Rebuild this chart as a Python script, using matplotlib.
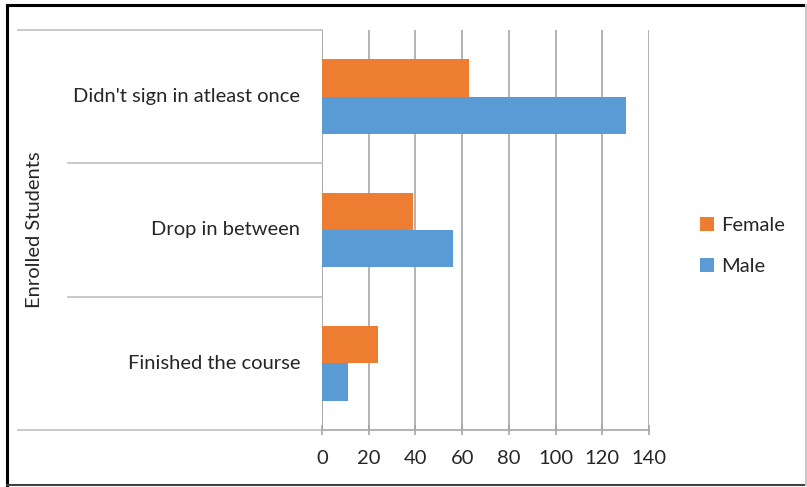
import matplotlib
matplotlib.use("Agg")
import matplotlib.pyplot as plt
import matplotlib.transforms as mtransforms
from matplotlib.patches import Patch
from matplotlib.lines import Line2D

categories = ["Finished the course", "Drop in between", "Didn't sign in atleast once"]
female = [24, 39, 63]
male = [11, 56, 130]
x_ticks = [0, 20, 40, 60, 80, 100, 120, 140]
group_label = "Enrolled Students"

FEMALE_C = "#ED7D31"
MALE_C = "#5B9BD5"
GRID_C = "#A6A6A6"
SEP_C = "#BFBFBF"
TEXT_C = "#262626"
FS = 14.5

plt.rcParams["font.family"] = ["Lato", "DejaVu Sans"]

W, H = 807, 487
fig = plt.figure(figsize=(W / 100, H / 100), dpi=100)
ax = fig.add_axes([322 / W, 1 - 430 / H, (649 - 322) / W, (430 - 30) / H])

bar_h = 0.28
ypos = list(range(len(categories)))
ax.barh([y + bar_h / 2 for y in ypos], female, height=bar_h, color=FEMALE_C, zorder=3)
ax.barh([y - bar_h / 2 for y in ypos], male, height=bar_h, color=MALE_C, zorder=3)

ax.set_xlim(0, 140)
ax.set_ylim(-0.5, len(categories) - 0.5)
ax.set_xticks(x_ticks)
ax.set_xticklabels([str(t) for t in x_ticks], fontsize=FS, color=TEXT_C)
ax.tick_params(axis="x", length=7, width=1.2, color=GRID_C, pad=11, direction="inout")
ax.set_yticks([])
ax.xaxis.grid(True, color=GRID_C, linewidth=1.2, zorder=0)

for side in ["top", "right", "left"]:
    ax.spines[side].set_visible(False)
ax.spines["bottom"].set_color(GRID_C)
ax.spines["bottom"].set_linewidth(1.2)

# category labels, right-aligned left of the axis
blend = mtransforms.blended_transform_factory(fig.transFigure, ax.transData)
for y, name in zip(ypos, categories):
    fig.text(300 / W, 0, name, transform=blend, ha="right", va="center",
             fontsize=FS, color=TEXT_C).set_y(y)

# category band separators extending left of the plot
for yb in [-0.5, len(categories) - 0.5]:
    ax.plot([18 / W, 322 / W], [yb, yb], transform=blend, color=SEP_C,
            linewidth=1.2, clip_on=False)
for yb in [0.5, 1.5]:
    ax.plot([68 / W, 322 / W], [yb, yb], transform=blend, color=SEP_C,
            linewidth=1.2, clip_on=False)
ax.plot([0, 0], [-0.5, len(categories) - 0.5], color=SEP_C, linewidth=1.2, zorder=1)

fig.text(35 / W, 1 - 230 / H, group_label, rotation=90, ha="center", va="center",
         fontsize=FS, color=TEXT_C)

handles = [Patch(facecolor=FEMALE_C), Patch(facecolor=MALE_C)]
fig.legend(handles, ["Female", "Male"], loc="center left",
           bbox_to_anchor=(682 / W, 1 - 246 / H), frameon=False, fontsize=FS,
           handlelength=0.7, handleheight=0.7, handletextpad=0.35,
           labelspacing=1.15, labelcolor=TEXT_C)

# outer frame: dark on left, top and bottom, light on the right
x0, x1 = 7 / W, 1 - 0.6 / W
y0, y1 = 2.5 / H, 1 - 5 / H
for xs, ys, c in [([x0, x0], [y0, y1], "black"),
                  ([x0, x1], [y1, y1], "black"),
                  ([x0, x1], [y0, y0], "#404040"),
                  ([x1, x1], [y0, y1], "#C8C8C8")]:
    fig.add_artist(Line2D(xs, ys, transform=fig.transFigure, color=c,
                          linewidth=2.2 if c == "black" else 1.5))

fig.savefig("out.png", dpi=100)
